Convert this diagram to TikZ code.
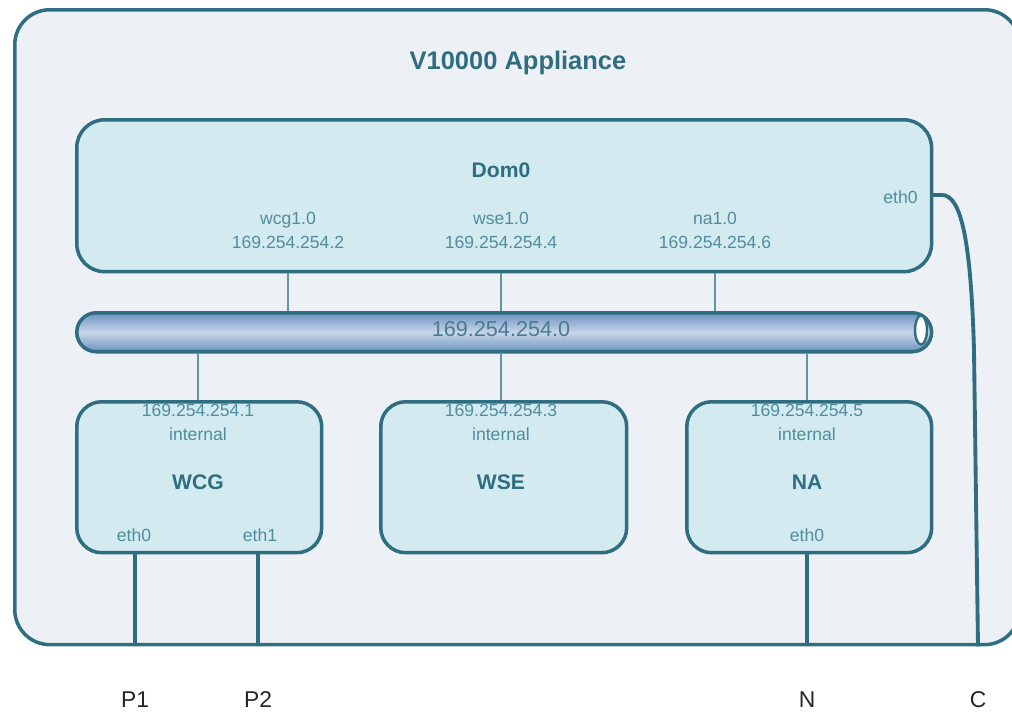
\documentclass[tikz,border=0pt]{standalone}
\usepackage{fontspec}
\setmainfont{Liberation Sans}
\usetikzlibrary{positioning}

\definecolor{boxline}{HTML}{2E6E80}
\definecolor{outerfill}{HTML}{EDF0F5}
\definecolor{boxfill}{HTML}{D3EBF0}
\definecolor{addrtext}{HTML}{4F8D9E}
\definecolor{linkthin}{HTML}{5F97A8}
\definecolor{busdark}{HTML}{6A91C2}
\definecolor{buslight}{HTML}{C8D6E8}
\definecolor{bustext}{HTML}{4A7A92}

\tikzset{
    box/.style={draw=boxline, line width=2pt, fill=boxfill, anchor=north west, rounded corners=0.5cm},
    addr/.style={text=addrtext, align=center, font=\fontsize{10}{13.7}\selectfont},
    boxtitle/.style={text=boxline, font=\fontsize{12}{14}\selectfont\bfseries},
    port/.style={text=black!85, font=\fontsize{13}{15}\selectfont},
    link/.style={draw=linkthin, line width=0.9pt},
    cable/.style={draw=boxline, line width=2.2pt}
}

\begin{document}
\begin{tikzpicture}[x=0.02cm,y=-0.02cm]
                \useasboundingbox (0,0) rectangle (1012,714);

                % appliance frame
                \node (appliance) at (13,8) [box, fill=outerfill, rounded corners=0.7cm, minimum width=20.1cm, minimum height=12.7cm] {};
                \node [boxtitle, font=\fontsize{14.5}{17}\selectfont\bfseries] at (518,63) {V10000 Appliance};

                % dom0
                \node (dom0) at (75,118) [box, rounded corners=0.56cm, minimum width=17.1cm, minimum height=3.04cm] {};
                \node [boxtitle] at (501,170) {Dom0};
                \node (wcgif) [addr] at (288,230) {wcg1.0\\169.254.254.2};
                \node (wseif) [addr] at (501,230) {wse1.0\\169.254.254.4};
                \node (naif) [addr] at (715,230) {na1.0\\169.254.254.6};
                \node [addr, anchor=east, inner sep=0pt] at (918,197) {eth0};
                \node (dometh) [coordinate] at (930,195) {};

                % bus
                \node (bus) at (75,311) [anchor=north west, minimum width=17.1cm, minimum height=0.78cm, rounded corners=0.39cm,
                    draw=boxline, line width=2pt, top color=busdark, bottom color=busdark, middle color=buslight] {};
                \draw [draw=boxline, line width=1.4pt, fill=white] (921,330) ellipse (0.12cm and 0.29cm);
                \node [text=bustext, font=\fontsize{12.3}{14}\selectfont] at (501,329) {169.254.254.0};

                % guests
                \node (wcg) at (75,400) [box, minimum width=4.9cm, minimum height=3.02cm] {};
                \node (wse) at (379,400) [box, minimum width=4.92cm, minimum height=3.02cm] {};
                \node (na) at (685,400) [box, minimum width=4.9cm, minimum height=3.02cm] {};

                \node (wcgaddr) [addr] at (198,422) {169.254.254.1\\internal};
                \node (wseaddr) [addr] at (501,422) {169.254.254.3\\internal};
                \node (naaddr) [addr] at (807,422) {169.254.254.5\\internal};

                \node [boxtitle] at (198,482) {WCG};
                \node [boxtitle] at (501,482) {WSE};
                \node [boxtitle] at (807,482) {NA};

                \node (wcgeth0) [addr] at (134,535) {eth0};
                \node (wcgeth1) [addr] at (260,535) {eth1};
                \node (naeth0) [addr] at (807,535) {eth0};

                % thin links to the bus
                \path [link]
                    (wcgif |- dom0.south) edge (wcgif |- bus.north)
                    (wseif |- dom0.south) edge (wseif |- bus.north)
                    (naif |- dom0.south) edge (naif |- bus.north)
                    (wcgaddr |- bus.south) edge (wcgaddr |- wcg.north)
                    (wseaddr |- bus.south) edge (wseaddr |- wse.north)
                    (naaddr |- bus.south) edge (naaddr |- na.north)
                ;

                % outside ports
                \node (p1) [port] at (135,700) {P1};
                \node (p2) [port] at (258,700) {P2};
                \node (n) [port] at (807,700) {N};
                \node (c) [port] at (978,700) {C};

                \path [cable]
                    (wcg.south -| p1) edge (appliance.south -| p1)
                    (wcg.south -| p2) edge (appliance.south -| p2)
                    (na.south -| n) edge (appliance.south -| n)
                ;
                \draw [cable] (dometh) -- (942,195) .. controls (962,195) and (971,245) .. (974,350) -- (appliance.south -| c);
            \end{tikzpicture}
\end{document}
